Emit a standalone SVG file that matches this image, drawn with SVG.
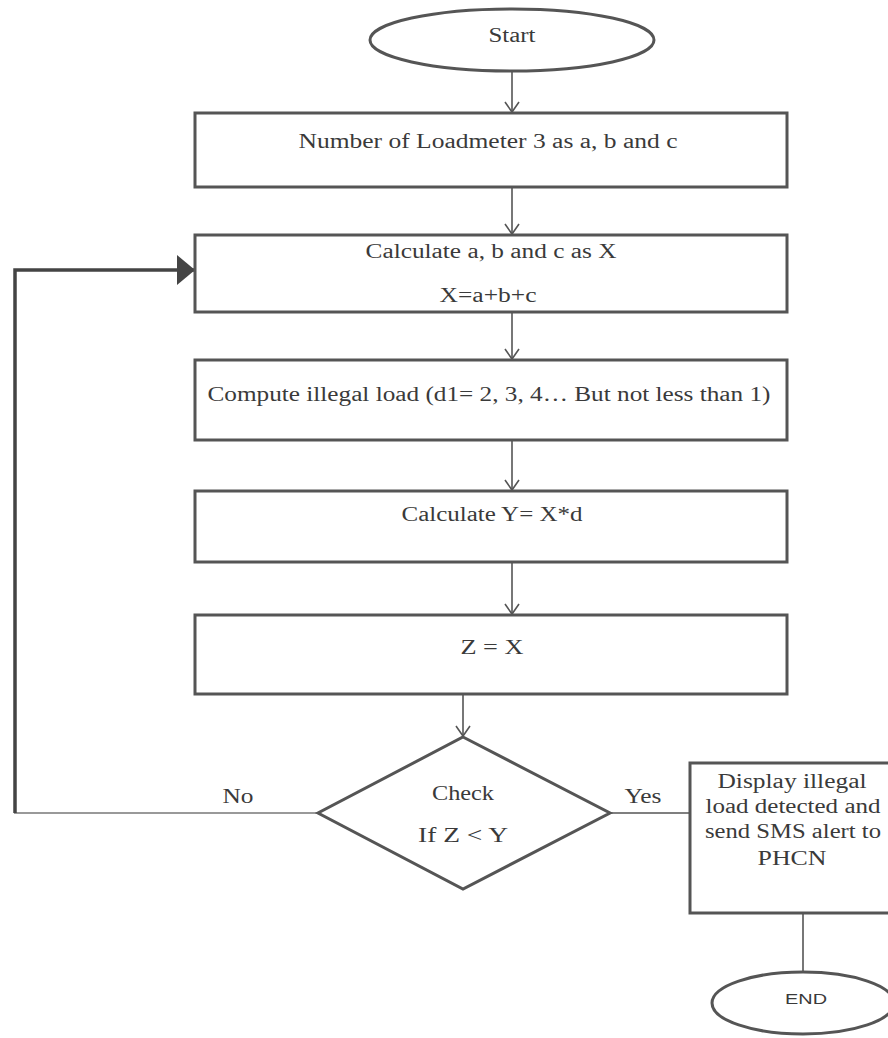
<svg xmlns="http://www.w3.org/2000/svg" width="888" height="1038" viewBox="0 0 888 1038">
<style>
.n{fill:#fff;stroke:#555;stroke-width:3}
.t{font-family:"Liberation Serif",serif;font-size:20px;fill:#3a3a3a;text-anchor:middle}
.s{font-family:"Liberation Sans",sans-serif;font-size:15px;fill:#3a3a3a;text-anchor:middle}
.c{fill:none;stroke:#555;stroke-width:1.6}
</style>
<defs>
<marker id="v" markerWidth="18" markerHeight="18" refX="11" refY="8" orient="auto" markerUnits="userSpaceOnUse">
<path d="M1,1 L11,8 L1,15" fill="none" stroke="#555" stroke-width="1.6"/>
</marker>
<marker id="f" markerWidth="22" markerHeight="34" refX="18" refY="16" orient="auto" markerUnits="userSpaceOnUse">
<path d="M0,1 L18,16 L0,31 Z" fill="#444"/>
</marker>
</defs>
<g id="connectors">
<line class="c" x1="512" y1="71" x2="512" y2="112" marker-end="url(#v)"/>
<line class="c" x1="512" y1="187" x2="512" y2="234" marker-end="url(#v)"/>
<line class="c" x1="512" y1="313" x2="512" y2="359" marker-end="url(#v)"/>
<line class="c" x1="512" y1="441" x2="512" y2="490" marker-end="url(#v)"/>
<line class="c" x1="512" y1="563" x2="512" y2="614" marker-end="url(#v)"/>
<line class="c" x1="463" y1="695" x2="463" y2="736" marker-end="url(#v)"/>
<line class="c" x1="610" y1="813" x2="689" y2="813"/>
<line class="c" x1="803" y1="914" x2="803" y2="972"/>
<line x1="318" y1="813" x2="14" y2="813" stroke="#777" stroke-width="1.6"/>
<polyline points="15,813 15,270 195,270" fill="none" stroke="#444" stroke-width="3.5" marker-end="url(#f)"/>
<text class="t" x="238" y="803" textLength="31" lengthAdjust="spacingAndGlyphs">No</text>
<text class="t" x="643" y="803" textLength="37" lengthAdjust="spacingAndGlyphs">Yes</text>
</g>
<g id="start">
<ellipse class="n" cx="512" cy="40" rx="142" ry="31"/>
<text class="t" x="512" y="42" textLength="47" lengthAdjust="spacingAndGlyphs">Start</text>
</g>
<g id="box1">
<rect class="n" x="195" y="113" width="592" height="74"/>
<text class="t" x="488" y="148" textLength="379" lengthAdjust="spacingAndGlyphs">Number of Loadmeter 3 as a, b and c</text>
</g>
<g id="box2">
<rect class="n" x="195" y="235" width="592" height="77"/>
<text class="t" x="491" y="258" textLength="251" lengthAdjust="spacingAndGlyphs">Calculate a, b and c as X</text>
<text class="t" x="488" y="302" textLength="97" lengthAdjust="spacingAndGlyphs">X=a+b+c</text>
</g>
<g id="box3">
<rect class="n" x="195" y="360" width="592" height="80"/>
<text class="t" x="489" y="401" textLength="563" lengthAdjust="spacingAndGlyphs">Compute illegal load (d1= 2, 3, 4… But not less  than  1)</text>
</g>
<g id="box4">
<rect class="n" x="195" y="491" width="592" height="71"/>
<text class="t" x="492" y="521" textLength="181" lengthAdjust="spacingAndGlyphs">Calculate Y= X*d</text>
</g>
<g id="box5">
<rect class="n" x="195" y="615" width="592" height="79"/>
<text class="t" x="492" y="654" textLength="63" lengthAdjust="spacingAndGlyphs">Z = X</text>
</g>
<g id="check">
<polygon class="n" points="463,737 610,813 463,889 318,813"/>
<text class="t" x="463" y="800" textLength="62" lengthAdjust="spacingAndGlyphs">Check</text>
<text class="t" x="463" y="842" textLength="90" lengthAdjust="spacingAndGlyphs">If Z &lt; Y</text>
</g>
<g id="display">
<rect class="n" x="690" y="763" width="210" height="150"/>
<text class="t" x="792" y="788" textLength="149" lengthAdjust="spacingAndGlyphs">Display illegal</text>
<text class="t" x="793" y="813" textLength="175" lengthAdjust="spacingAndGlyphs">load detected and</text>
<text class="t" x="793" y="838" textLength="176" lengthAdjust="spacingAndGlyphs">send SMS alert to</text>
<text class="t" x="792" y="865" textLength="69" lengthAdjust="spacingAndGlyphs">PHCN</text>
</g>
<g id="end">
<ellipse class="n" cx="803" cy="1003" rx="91" ry="31"/>
<text class="s" x="806" y="1004" textLength="42" lengthAdjust="spacingAndGlyphs">END</text>
</g>
</svg>
